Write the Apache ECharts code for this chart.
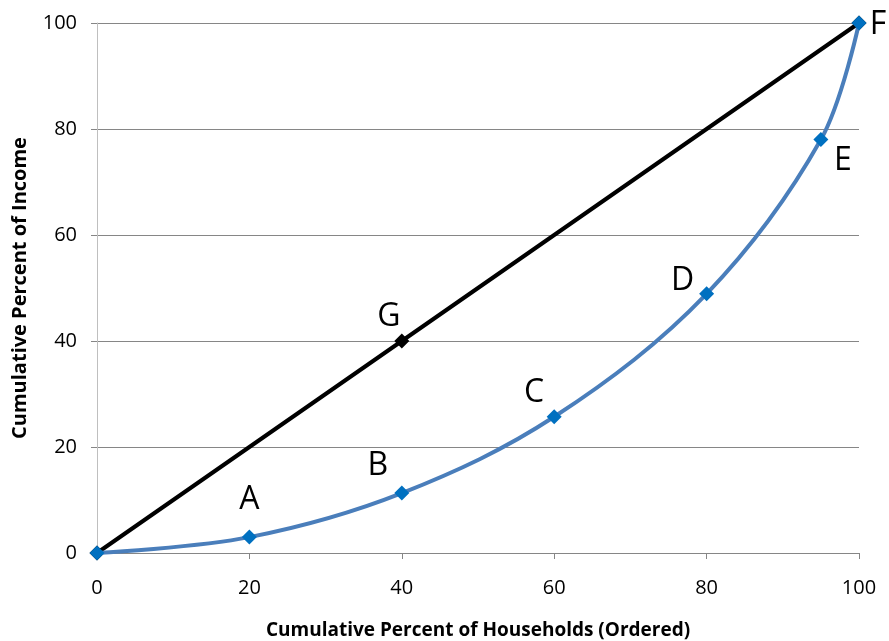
<!DOCTYPE html>
<html>
<head>
<meta charset="utf-8">
<script src="https://cdn.jsdelivr.net/npm/echarts@6/dist/echarts.min.js"></script>
<style>html,body{margin:0;padding:0;background:#fff}#c{width:889px;height:641px}</style>
</head>
<body>
<div id="c"></div>
<script>
// Data
const lorenzX = [0, 20, 40, 60, 80, 95, 100];
const lorenzY = [0, 3, 11.3, 25.7, 48.9, 78, 100];
const lorenzNames = ['', 'A', 'B', 'C', 'D', 'E', 'F'];
const equalX = [0, 40, 100];
const equalY = [0, 40, 100];
const equalNames = ['', 'G', ''];
const xTicks = [0, 20, 40, 60, 80, 100];
const yTicks = [0, 20, 40, 60, 80, 100];

// label offsets (styling, pixels)
const lorenzOffsets = [[0,0],[0,-37],[-24,-27],[-20,-24],[-24,-13],[22,21],[19,2]];
const equalOffsets = [[0,0],[-13,-24],[0,0]];

const FONT = '"Open Sans", sans-serif';
function build(xs, ys, names, offs) {
  return xs.map((x, i) => ({
    value: [x, ys[i]],
    label: {
      show: names[i] !== '',
      formatter: names[i],
      position: 'inside',
      offset: offs[i],
      fontSize: 32,
      color: '#000',
      fontFamily: FONT
    }
  }));
}

const chart = echarts.init(document.getElementById('c'));
chart.setOption({
  animation: false,
  backgroundColor: '#fff',
  grid: { left: 97, right: 30, top: 23, bottom: 88, containLabel: false, outerBoundsMode: 'none' },
  xAxis: {
    type: 'value', min: 0, max: 100, interval: 20,
    name: 'Cumulative Percent of Households (Ordered)',
    nameLocation: 'middle', nameGap: 68,
    nameTextStyle: { fontFamily: FONT, fontWeight: 'bold', fontSize: 19, color: '#000' },
    axisLine: { show: true, lineStyle: { color: '#868686', width: 1 } },
    axisTick: { show: true, length: 6, lineStyle: { color: '#868686' } },
    axisLabel: { fontFamily: FONT, fontSize: 20, color: '#000', margin: 25,
      formatter: v => xTicks.includes(v) ? String(v) : '' },
    splitLine: { show: false }
  },
  yAxis: {
    type: 'value', min: 0, max: 100, interval: 20,
    name: 'Cumulative Percent of Income',
    nameLocation: 'middle', nameGap: 67,
    nameTextStyle: { fontFamily: FONT, fontWeight: 'bold', fontSize: 20, color: '#000' },
    axisLine: { show: true, lineStyle: { color: '#bfbfbf', width: 1 } },
    axisTick: { show: true, length: 6, lineStyle: { color: '#868686' } },
    axisLabel: { fontFamily: FONT, fontSize: 20, color: '#000', margin: 20,
      formatter: v => yTicks.includes(v) ? String(v) : '' },
    splitLine: { show: true, lineStyle: { color: '#868686', width: 1 } }
  },
  series: [
    {
      type: 'line',
      data: build(equalX, equalY, equalNames, equalOffsets),
      lineStyle: { color: '#000', width: 4 },
      itemStyle: { color: '#000' },
      symbol: 'diamond', symbolSize: 15,
      showAllSymbol: true,
      z: 2
    },
    {
      type: 'line',
      data: build(lorenzX, lorenzY, lorenzNames, lorenzOffsets),
      smooth: 0.35,
      lineStyle: { color: '#4a7ebb', width: 4 },
      itemStyle: { color: '#0070c0' },
      symbol: 'diamond', symbolSize: 15,
      showAllSymbol: true,
      z: 3
    }
  ]
});
</script>
</body>
</html>
